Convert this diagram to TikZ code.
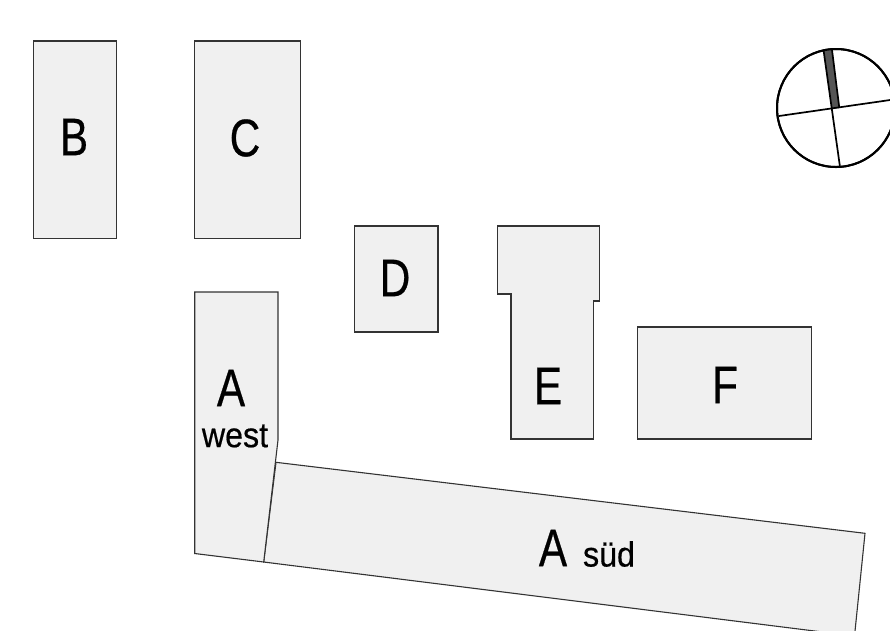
\documentclass[tikz,border=0pt]{standalone}
\usepackage{fontspec}
\setmainfont{Liberation Sans}
\newfontfamily\labfont[FakeBold=0.5]{Liberation Sans}
\definecolor{bfill}{HTML}{F0F0F0}
\definecolor{bline}{HTML}{333333}
\definecolor{stripe}{HTML}{555555}
\tikzset{
  bldg/.style={draw=bline,fill=bfill,line width=1.1pt,line join=miter},
  biglab/.style={inner sep=0pt,anchor=center,font=\labfont\fontsize{53}{53}\selectfont,xscale=0.8},
  smalllab/.style={inner sep=0pt,anchor=center,font=\labfont\fontsize{35}{35}\selectfont,xscale=0.92},
}
\begin{document}
\begin{tikzpicture}[x=1pt,y=-1pt]
\useasboundingbox (0,0) rectangle (890,630);
\clip (0,0) rectangle (890,630);
\draw[bldg] (33.5,41) rectangle (116.5,238.5);
\draw[bldg] (194.5,41) rectangle (300.5,238.5);
\draw[bldg] (354.7,226) rectangle (438,332);
\draw[bldg] (497.5,226) -- (599.5,226) -- (599.5,301) -- (593.5,301) -- (593.5,439) -- (511,439) -- (511,294) -- (497.5,294) -- cycle;
\draw[bldg] (637.5,327) rectangle (811.5,439);
\draw[bldg] (276,462.3) -- (865,533.3) -- (854.5,636) -- (263.7,562) -- cycle;
\draw[bldg] (194.7,292) -- (278,292) -- (278,440) -- (263.7,562) -- (194.7,553.5) -- cycle;
% compass
\draw[black,line width=2pt,fill=white] (836,108) circle (59);
\fill[stripe] (823.5,50) -- (832,50) -- (839.3,108) -- (831.7,109) -- cycle;
\draw[black,line width=1.7pt] (823.5,50) -- (840,167);
\draw[black,line width=1.7pt] (832,50) -- (839.3,108);
\draw[black,line width=1.7pt] (779,116) -- (895,99.3);
\draw[black,line width=2pt] (836,108) circle (59);
\node[biglab] (b) at (74,137) {B};
\node[biglab] (c) at (245,138) {C};
\node[biglab] (d) at (395,278) {D};
\node[biglab] (e) at (548,386) {E};
\node[biglab] (f) at (725,385) {F};
\node[biglab] (aw) at (231,388) {A};
\node[smalllab] (w) at (235,436) {west};
\node[biglab] (as) at (553,548) {A};
\node[smalllab] (s) at (609,554) {süd};
\end{tikzpicture}
\end{document}
